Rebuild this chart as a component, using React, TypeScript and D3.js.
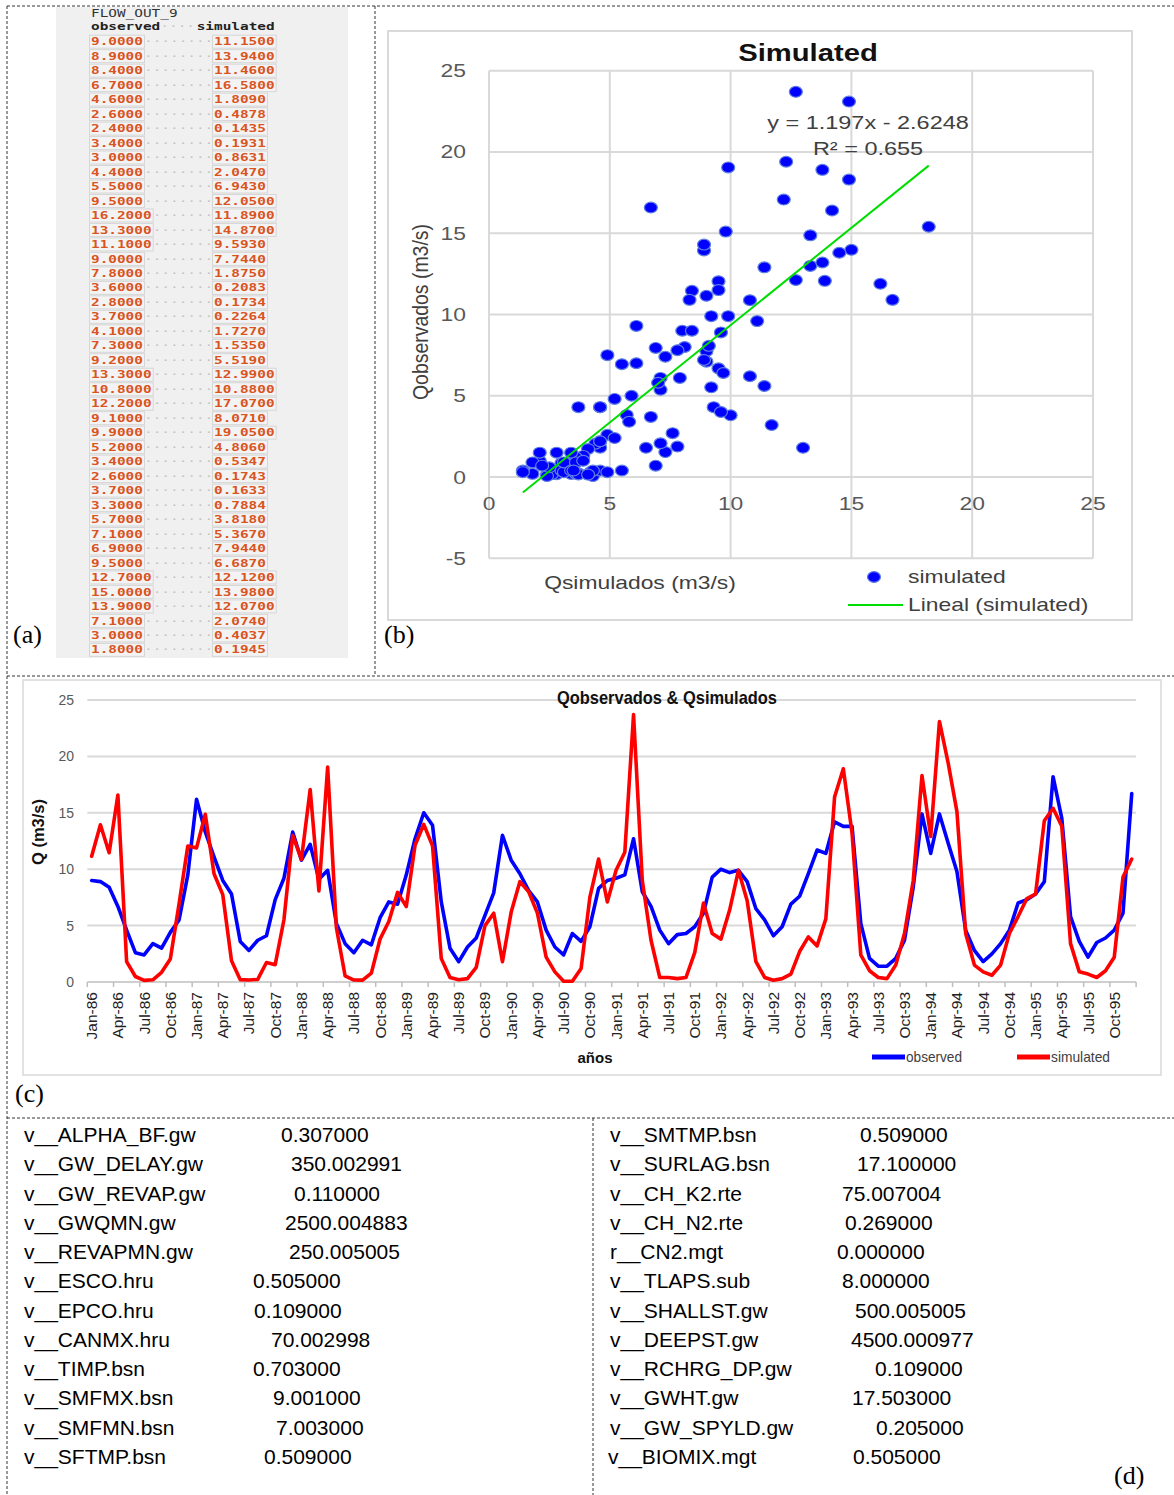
import React from 'react';
import * as d3 from 'd3';

// ---------------- DATA ----------------
const MONTHS = ['Jan', 'Feb', 'Mar', 'Apr', 'May', 'Jun', 'Jul', 'Aug', 'Sep', 'Oct', 'Nov', 'Dec'];
const YEARS = ['86', '87', '88', '89', '90', '91', '92', '93', '94', '95'];

const OBSERVED = [
  9.0, 8.9, 8.4, 6.7, 4.6, 2.6, 2.4, 3.4, 3.0, 4.4, 5.5, 9.5,
  16.2, 13.3, 11.1, 9.0, 7.8, 3.6, 2.8, 3.7, 4.1, 7.3, 9.2, 13.3,
  10.8, 12.2, 9.1, 9.9, 5.2, 3.4, 2.6, 3.7, 3.3, 5.7, 7.1, 6.9,
  9.5, 12.7, 15.0, 13.9, 7.1, 3.0, 1.8, 3.1, 3.9, 5.9, 7.9, 13.0,
  10.8, 9.6, 8.1, 7.1, 4.6, 3.1, 2.4, 4.3, 3.6, 4.9, 8.3, 9.0,
  9.2, 9.5, 12.7, 8.0, 6.7, 4.6, 3.4, 4.2, 4.3, 4.9, 6.1, 9.3,
  10.0, 9.7, 9.9, 8.9, 6.5, 5.5, 4.1, 4.9, 6.9, 7.6, 9.6, 11.7,
  11.4, 14.2, 13.8, 13.8, 5.2, 2.1, 1.4, 1.4, 2.1, 3.7, 8.4, 14.9,
  11.4, 14.9, 12.3, 9.8, 4.6, 2.8, 1.8, 2.5, 3.4, 4.6, 7.0, 7.3,
  7.8, 8.9, 18.2, 14.5, 5.8, 3.6, 2.2, 3.5, 3.9, 4.6, 6.1, 16.7,
];

const SIMULATED = [
  11.15, 13.94, 11.46, 16.58, 1.809, 0.4878, 0.1435, 0.1931, 0.8631, 2.047, 6.943, 12.05,
  11.89, 14.87, 9.593, 7.744, 1.875, 0.2083, 0.1734, 0.2264, 1.727, 1.535, 5.519, 12.99,
  10.88, 17.07, 8.071, 19.05, 4.806, 0.5347, 0.1743, 0.1633, 0.7884, 3.818, 5.367, 7.944,
  6.687, 12.12, 13.98, 12.07, 2.074, 0.4037, 0.1945, 0.3, 1.3, 5.0, 6.1, 1.8,
  6.2, 8.9, 8.0, 6.1, 2.2, 0.9, 0.06, 0.06, 1.2, 7.5, 10.9, 7.1,
  9.9, 11.5, 23.7, 9.0, 3.7, 0.4, 0.4, 0.3, 0.4, 2.6, 7.0, 4.3,
  3.8, 6.4, 9.9, 7.2, 1.8, 0.4, 0.15, 0.3, 0.7, 2.7, 4.0, 3.2,
  5.6, 16.4, 18.9, 13.2, 2.4, 1.0, 0.4, 0.3, 1.5, 4.3, 9.0, 18.3,
  12.9, 23.1, 19.4, 15.1, 4.3, 1.5, 0.9, 0.6, 1.5, 4.3, 5.8, 7.4,
  7.8, 14.3, 15.4, 13.8, 3.4, 0.9, 0.7, 0.4, 1.0, 2.2, 9.3, 10.9,
];

const TABLE_TITLE = 'FLOW_OUT_9';
const TABLE_HEADERS = ['observed', 'simulated'];
const TABLE_ROW_COUNT = 43;

const SCATTER_TITLE = 'Simulated';
const SCATTER_X_TITLE = 'Qsimulados (m3/s)';
const SCATTER_Y_TITLE = 'Qobservados (m3/s)';
const SCATTER_X_TICKS = [0, 5, 10, 15, 20, 25];
const SCATTER_Y_TICKS = [-5, 0, 5, 10, 15, 20, 25];
const TREND_SLOPE = 1.197;
const TREND_INTERCEPT = -2.6248;
const EQUATION_LABEL = 'y = 1.197x - 2.6248';
const R2_LABEL = 'R² = 0.655';
const SCATTER_LEGEND = ['simulated', 'Lineal (simulated)'];

const TS_TITLE = 'Qobservados & Qsimulados';
const TS_Y_TITLE = 'Q (m3/s)';
const TS_X_TITLE = 'años';
const TS_Y_TICKS = [0, 5, 10, 15, 20, 25];
const TS_LEGEND = ['observed', 'simulated'];

const PARAMS_LEFT_NAMES = ['v__ALPHA_BF.gw', 'v__GW_DELAY.gw', 'v__GW_REVAP.gw', 'v__GWQMN.gw', 'v__REVAPMN.gw', 'v__ESCO.hru', 'v__EPCO.hru', 'v__CANMX.hru', 'v__TIMP.bsn', 'v__SMFMX.bsn', 'v__SMFMN.bsn', 'v__SFTMP.bsn'];
const PARAMS_LEFT_VALUES = ['0.307000', '350.002991', '0.110000', '2500.004883', '250.005005', '0.505000', '0.109000', '70.002998', '0.703000', '9.001000', '7.003000', '0.509000'];
const PARAMS_RIGHT_NAMES = ['v__SMTMP.bsn', 'v__SURLAG.bsn', 'v__CH_K2.rte', 'v__CH_N2.rte', 'r__CN2.mgt', 'v__TLAPS.sub', 'v__SHALLST.gw', 'v__DEEPST.gw', 'v__RCHRG_DP.gw', 'v__GWHT.gw', 'v__GW_SPYLD.gw', 'v__BIOMIX.mgt'];
const PARAMS_RIGHT_VALUES = ['0.509000', '17.100000', '75.007004', '0.269000', '0.000000', '8.000000', '500.005005', '4500.000977', '0.109000', '17.503000', '0.205000', '0.505000'];

// ---------------- LAYOUT (positions only) ----------------
const LEFT_VALUE_X = [281, 291, 294, 285, 289, 253, 254, 271, 253, 273, 276, 264];
const RIGHT_NAME_X = [610, 610, 610, 610, 610, 610, 610, 610, 610, 610, 610, 608];
const RIGHT_VALUE_X = [860, 857, 842, 845, 837, 842, 855, 851, 875, 852, 876, 853];

const W = 1174;
const H = 1495;
const SANS = '"Liberation Sans", Arial, sans-serif';
const MONO = '"DejaVu Sans Mono", monospace';
const SERIF = '"Liberation Serif", "Times New Roman", serif';

const monthLabels = d3.range(OBSERVED.length).map(
  (i) => `${MONTHS[i % 12]}-${YEARS[Math.floor(i / 12)]}`
);

function Dashed({ x1, y1, x2, y2 }: any) {
  return <line x1={x1} y1={y1} x2={x2} y2={y2} stroke="#333" strokeWidth={1} strokeDasharray="3 2" />;
}

// ---------------- PANEL A ----------------
function PanelA() {
  const rowY = (i: number) => 41.7 + 14.48 * i;
  const CW = 8.67;
  const SX = 1.44;
  const x0 = 91;
  const simX = 214;
  const orange = '#d9541e';
  const rows = d3.range(TABLE_ROW_COUNT);
  const mt = (x: number, y: number) => `translate(${x},${y}) scale(${SX},1)`;
  return (
    <g>
      <rect x={56} y={7} width={292} height={651} fill="#f0f0f0" />
      <text transform={mt(x0, 16.6)} fontFamily={MONO} fontSize={10} fill="#333">{TABLE_TITLE}</text>
      <text transform={mt(x0, 30.3)} fontFamily={MONO} fontSize={10} fontWeight="bold" fill="#222">{TABLE_HEADERS[0]}</text>
      <text transform={mt(x0 + 8 * CW, 30.3)} fontFamily={MONO} fontSize={10} fill="#c4c4c4">{'····'}</text>
      <text transform={mt(196.7, 30.3)} fontFamily={MONO} fontSize={10} fontWeight="bold" fill="#222">{TABLE_HEADERS[1]}</text>
      {rows.map((i) => {
        const cy = rowY(i);
        const s1 = OBSERVED[i].toFixed(4);
        const s2 = SIMULATED[i].toFixed(4);
        const nd = Math.max(0, 14 - s1.length);
        return (
          <g key={i}>
            <rect x={x0 - 1.5} y={cy - 6.5} width={s1.length * CW + 3} height={13} fill="#f3f3f3" stroke="#d6d6d6" strokeWidth={1} />
            <rect x={simX - 1.5} y={cy - 6.5} width={s2.length * CW + 3} height={13} fill="#f3f3f3" stroke="#d6d6d6" strokeWidth={1} />
            <text transform={mt(x0, cy + 3.6)} fontFamily={MONO} fontSize={10} fontWeight="bold" fill={orange}>{s1}</text>
            <text transform={mt(x0 + s1.length * CW + 1, cy + 3.6)} fontFamily={MONO} fontSize={10} fill="#c4c4c4">{'·'.repeat(nd)}</text>
            <text transform={mt(simX, cy + 3.6)} fontFamily={MONO} fontSize={10} fontWeight="bold" fill={orange}>{s2}</text>
          </g>
        );
      })}
    </g>
  );
}

// ---------------- PANEL B ----------------
function PanelB() {
  const x = d3.scaleLinear().domain([0, 25]).range([489, 1093]);
  const y = d3.scaleLinear().domain([-5, 25]).range([558.3, 70.7]);
  const grid = '#d9d9d9';
  const gray = '#595959';
  const sx = 1.27;
  const st = (px: number, py: number) => `translate(${px},${py}) scale(${sx},1)`;
  const xMin = d3.min(OBSERVED) as number;
  const xMax = d3.max(OBSERVED) as number;
  const trend = d3.line<number>()
    .x((d) => x(d))
    .y((d) => y(TREND_SLOPE * d + TREND_INTERCEPT))([xMin, xMax]);
  return (
    <g>
      <rect x={388} y={31} width={744} height={589} fill="#fff" stroke={grid} strokeWidth={2} />
      {SCATTER_X_TICKS.map((t) => (
        <line key={'vx' + t} x1={x(t)} x2={x(t)} y1={y(-5)} y2={y(25)} stroke={grid} strokeWidth={2} />
      ))}
      {SCATTER_Y_TICKS.map((t) => (
        <line key={'hy' + t} x1={x(0)} x2={x(25)} y1={y(t)} y2={y(t)} stroke={grid} strokeWidth={2} />
      ))}
      {SCATTER_Y_TICKS.map((t) => (
        <text key={'ly' + t} transform={st(466, y(t) + 6.5)} textAnchor="end" fontFamily={SANS} fontSize={18} fill={gray}>{t}</text>
      ))}
      {SCATTER_X_TICKS.map((t) => (
        <text key={'lx' + t} transform={st(x(t), 509.5)} textAnchor="middle" fontFamily={SANS} fontSize={18} fill={gray}>{t}</text>
      ))}
      {OBSERVED.map((o, i) => (
        <ellipse key={'p' + i} cx={x(o)} cy={y(SIMULATED[i])} rx={6.5} ry={5.4} fill="#0000ff" stroke="#5f7fe0" strokeWidth={1.2} />
      ))}
      <path d={trend as string} stroke="#00dd00" strokeWidth={2} fill="none" />
      <text transform={st(808, 61)} textAnchor="middle" fontFamily={SANS} fontWeight="bold" fontSize={23} fill="#111">{SCATTER_TITLE}</text>
      <text transform={st(868, 128.5)} textAnchor="middle" fontFamily={SANS} fontSize={18.5} fill="#404040">{EQUATION_LABEL}</text>
      <text transform={st(868, 154.5)} textAnchor="middle" fontFamily={SANS} fontSize={18.5} fill="#404040">{R2_LABEL}</text>
      <text transform={st(640, 589)} textAnchor="middle" fontFamily={SANS} fontSize={18} fill="#404040">{SCATTER_X_TITLE}</text>
      <text transform={`translate(428,312) rotate(-90) scale(1.08,1.25)`} textAnchor="middle" fontFamily={SANS} fontSize={18} fill="#404040">{SCATTER_Y_TITLE}</text>
      <ellipse cx={874} cy={577} rx={6.5} ry={5.4} fill="#0000ff" stroke="#5f7fe0" strokeWidth={1.2} />
      <text transform={st(908, 583)} fontFamily={SANS} fontSize={18} fill="#404040">{SCATTER_LEGEND[0]}</text>
      <line x1={848} x2={903} y1={605} y2={605} stroke="#00dd00" strokeWidth={2} />
      <text transform={st(908, 611)} fontFamily={SANS} fontSize={18} fill="#404040">{SCATTER_LEGEND[1]}</text>
    </g>
  );
}

// ---------------- PANEL C ----------------
function PanelC() {
  const idx = d3.range(OBSERVED.length);
  const x = d3.scaleBand<number>().domain(idx).range([87.3, 1136.1]);
  const bw = x.bandwidth();
  const cx = (i: number) => (x(i) as number) + bw / 2;
  const y = d3.scaleLinear().domain([0, 25]).range([982, 700]);
  const line = d3.line<number>().x((_, i) => cx(i)).y((d) => y(d));
  const grid = '#d9d9d9';
  const tickIdx = idx.filter((i) => i % 3 === 0);
  return (
    <g>
      <rect x={23} y={680} width={1138} height={395} fill="#fff" stroke={grid} strokeWidth={1.5} />
      {TS_Y_TICKS.filter((t) => t > 0).map((t) => (
        <line key={'g' + t} x1={87.3} x2={1136} y1={y(t)} y2={y(t)} stroke={grid} strokeWidth={2} />
      ))}
      <line x1={87.3} x2={1136.1} y1={y(0)} y2={y(0)} stroke="#bfbfbf" strokeWidth={1.5} />
      {d3.range(0, OBSERVED.length + 1, 3).map((k) => (
        <line key={'t' + k} x1={87.3 + k * bw} x2={87.3 + k * bw} y1={y(0)} y2={y(0) + 5} stroke="#bfbfbf" strokeWidth={1.5} />
      ))}
      {TS_Y_TICKS.map((t) => (
        <text key={'yl' + t} x={74} y={y(t) + 5} textAnchor="end" fontFamily={SANS} fontSize={14} fill="#595959">{t}</text>
      ))}
      {tickIdx.map((i) => (
        <text key={'xl' + i} transform={`translate(${cx(i) + 5.5},992) rotate(-90)`} textAnchor="end" fontFamily={SANS} fontSize={15.5} fill="#222">{monthLabels[i]}</text>
      ))}
      <path d={line(OBSERVED) as string} fill="none" stroke="#0000ff" strokeWidth={3.6} strokeLinejoin="round" strokeLinecap="round" />
      <path d={line(SIMULATED) as string} fill="none" stroke="#ff0000" strokeWidth={3.6} strokeLinejoin="round" strokeLinecap="round" />
      <text x={667} y={704} textAnchor="middle" fontFamily={SANS} fontWeight="bold" fontSize={19} textLength={220} lengthAdjust="spacingAndGlyphs" fill="#111">{TS_TITLE}</text>
      <text transform="translate(44,832) rotate(-90)" textAnchor="middle" fontFamily={SANS} fontWeight="bold" fontSize={16.5} fill="#111">{TS_Y_TITLE}</text>
      <text x={595} y={1063} textAnchor="middle" fontFamily={SANS} fontWeight="bold" fontSize={15} fill="#111">{TS_X_TITLE}</text>
      <line x1={872} x2={905} y1={1057} y2={1057} stroke="#0000ff" strokeWidth={5} />
      <text x={906} y={1062} fontFamily={SANS} fontSize={15} textLength={56} lengthAdjust="spacingAndGlyphs" fill="#404040">{TS_LEGEND[0]}</text>
      <line x1={1017} x2={1050} y1={1057} y2={1057} stroke="#ff0000" strokeWidth={5} />
      <text x={1051} y={1062} fontFamily={SANS} fontSize={15} textLength={59} lengthAdjust="spacingAndGlyphs" fill="#404040">{TS_LEGEND[1]}</text>
    </g>
  );
}

// ---------------- PANEL D ----------------
function PanelD() {
  const rowY = (i: number) => 1142 + 29.25 * i;
  return (
    <g fontFamily={SANS} fontSize={21} fill="#000">
      {PARAMS_LEFT_NAMES.map((n, i) => (
        <g key={'l' + i}>
          <text x={24} y={rowY(i)}>{n}</text>
          <text x={LEFT_VALUE_X[i]} y={rowY(i)}>{PARAMS_LEFT_VALUES[i]}</text>
        </g>
      ))}
      {PARAMS_RIGHT_NAMES.map((n, i) => (
        <g key={'r' + i}>
          <text x={RIGHT_NAME_X[i]} y={rowY(i)}>{n}</text>
          <text x={RIGHT_VALUE_X[i]} y={rowY(i)}>{PARAMS_RIGHT_VALUES[i]}</text>
        </g>
      ))}
    </g>
  );
}

export default function App() {
  return (
    <svg width={W} height={H} viewBox={`0 0 ${W} ${H}`} style={{ position: 'absolute', left: 0, top: 0, background: '#fff' }}>
      <rect x={0} y={0} width={W} height={H} fill="#fff" />
      <PanelA />
      <PanelB />
      <PanelC />
      <PanelD />
      <Dashed x1={7} y1={6} x2={W} y2={6} />
      <Dashed x1={7} y1={6} x2={7} y2={H} />
      <Dashed x1={375} y1={6} x2={375} y2={676} />
      <Dashed x1={7} y1={676} x2={W} y2={676} />
      <Dashed x1={7} y1={1118} x2={W} y2={1118} />
      <Dashed x1={593} y1={1118} x2={593} y2={H} />
      <g fontFamily={SERIF} fontSize={26} fill="#000">
        <text x={13} y={643}>(a)</text>
        <text x={384} y={643}>(b)</text>
        <text x={15} y={1102}>(c)</text>
        <text x={1114} y={1484}>(d)</text>
      </g>
    </svg>
  );
}
